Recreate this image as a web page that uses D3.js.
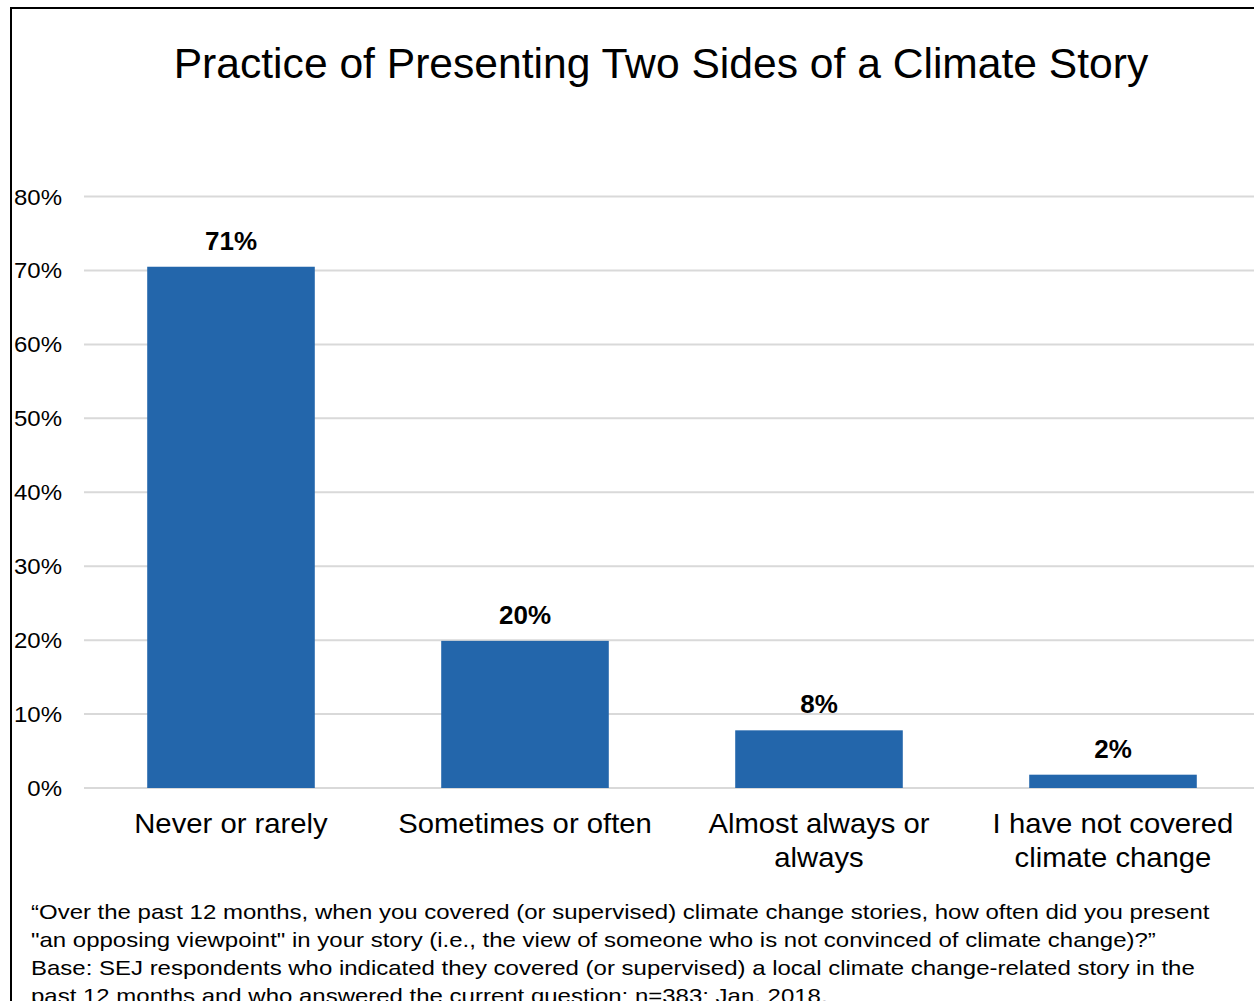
<!DOCTYPE html>
<html><head><meta charset="utf-8">
<script src="https://cdn.jsdelivr.net/npm/d3@7"></script>
<style>
html,body{margin:0;padding:0;background:#fff;overflow:hidden}
svg{display:block;font-family:"Liberation Sans",Arial,sans-serif}
</style></head>
<body>
<script>
const title = "Practice of Presenting Two Sides of a Climate Story";
const categories = [["Never or rarely"], ["Sometimes or often"], ["Almost always or", "always"], ["I have not covered", "climate change"]];
const values = [70.5, 19.9, 7.8, 1.8];
const yTicks = [0, 10, 20, 30, 40, 50, 60, 70, 80];
const footnote = [
  "\u201cOver the past 12 months, when you covered (or supervised) climate change stories, how often did you present",
  "\"an opposing viewpoint\" in your story (i.e., the view of someone who is not convinced of climate change)?\u201d",
  "Base: SEJ respondents who indicated they covered (or supervised) a local climate change-related story in the",
  "past 12 months and who answered the current question; n=383; Jan. 2018."
];

const W = 1254, H = 1001;
const svg = d3.select("body").append("svg").attr("width", W).attr("height", H);

function stretch(sel, f) {
  sel.each(function () {
    const l = this.getComputedTextLength();
    d3.select(this).attr("textLength", l * f).attr("lengthAdjust", "spacingAndGlyphs");
  });
}

// outer border
svg.append("rect").attr("x", 11).attr("y", 8).attr("width", W + 20).attr("height", H + 20)
  .attr("fill", "none").attr("stroke", "#000").attr("stroke-width", 2);

svg.append("text").attr("x", 661).attr("y", 78).attr("text-anchor", "middle")
  .attr("font-size", 42.6).attr("fill", "#000").text(title);

const x = d3.scaleBand().domain(d3.range(categories.length)).range([84, 84 + 294 * 4]).paddingInner(0.43).paddingOuter(0.215);
const y = d3.scaleLinear().domain([0, 80]).range([788, 196.5]);

// gridlines
svg.append("g").selectAll("line").data(yTicks).join("line")
  .attr("x1", 84).attr("x2", W).attr("y1", d => y(d)).attr("y2", d => y(d))
  .attr("stroke", "#d9d9d9").attr("stroke-width", 2);

// y tick labels
svg.append("g").selectAll("text").data(yTicks).join("text")
  .attr("x", 62).attr("y", d => y(d) + 8).attr("text-anchor", "end")
  .attr("font-size", 22).attr("fill", "#000").text(d => d + "%")
  .call(stretch, 1.09);

// bars
svg.append("g").selectAll("rect").data(values).join("rect")
  .attr("x", (d, i) => x(i)).attr("width", x.bandwidth())
  .attr("y", d => y(d)).attr("height", d => y(0) - y(d))
  .attr("fill", "#2366ab");

// value labels
svg.append("g").selectAll("text").data(values).join("text")
  .attr("x", (d, i) => x(i) + x.bandwidth() / 2).attr("y", d => y(d) - 17)
  .attr("text-anchor", "middle").attr("font-size", 26).attr("font-weight", "bold")
  .attr("fill", "#000").text(d => Math.round(d) + "%");

// category labels
const cg = svg.append("g").selectAll("text").data(categories).join("text")
  .attr("text-anchor", "middle").attr("font-size", 28).attr("fill", "#000");
cg.selectAll("tspan").data((d, i) => d.map(s => ({ s, i }))).join("tspan")
  .attr("x", d => x(d.i) + x.bandwidth() / 2)
  .attr("y", (d, j) => 833 + j * 34)
  .text(d => d.s)
  .call(stretch, 1.045);

// footnote
svg.append("g").selectAll("text").data(footnote).join("text")
  .attr("x", 31).attr("y", (d, i) => 919 + i * 28)
  .attr("font-size", 21).attr("fill", "#000").text(d => d)
  .call(stretch, 1.142);
</script>
</body></html>
